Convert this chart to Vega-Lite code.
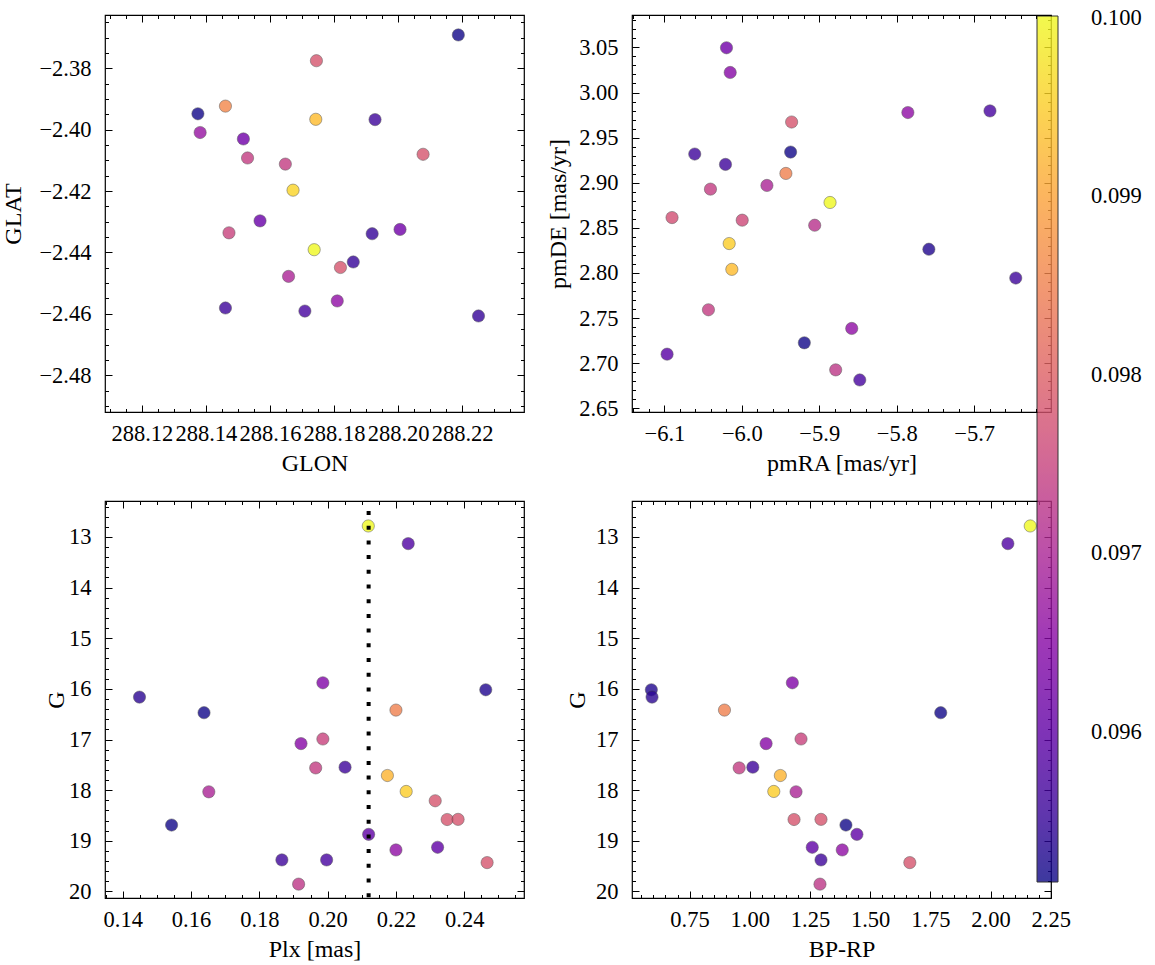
{
  "$schema": "https://vega.github.io/schema/vega-lite/v6.json",
  "background": "white",
  "padding": {"left": 1, "top": 8, "right": 5, "bottom": 5},
  "datasets": {
    "p1": [
      {"GLON": 288.2188, "GLAT": -2.3691, "c": 0.0952},
      {"GLON": 288.1745, "GLAT": -2.3775, "c": 0.0978},
      {"GLON": 288.1461, "GLAT": -2.3923, "c": 0.0986},
      {"GLON": 288.1375, "GLAT": -2.3948, "c": 0.0952},
      {"GLON": 288.1743, "GLAT": -2.3966, "c": 0.0993},
      {"GLON": 288.1928, "GLAT": -2.3967, "c": 0.0956},
      {"GLON": 288.1382, "GLAT": -2.4009, "c": 0.0967},
      {"GLON": 288.1517, "GLAT": -2.403, "c": 0.0962},
      {"GLON": 288.2078, "GLAT": -2.408, "c": 0.0978},
      {"GLON": 288.153, "GLAT": -2.4092, "c": 0.0974},
      {"GLON": 288.1648, "GLAT": -2.4112, "c": 0.0974},
      {"GLON": 288.1672, "GLAT": -2.4197, "c": 0.0996},
      {"GLON": 288.1569, "GLAT": -2.4297, "c": 0.0961},
      {"GLON": 288.1472, "GLAT": -2.4336, "c": 0.0975},
      {"GLON": 288.1919, "GLAT": -2.4339, "c": 0.0955},
      {"GLON": 288.2006, "GLAT": -2.4325, "c": 0.0962},
      {"GLON": 288.1738, "GLAT": -2.4391, "c": 0.1},
      {"GLON": 288.186, "GLAT": -2.4431, "c": 0.0955},
      {"GLON": 288.182, "GLAT": -2.4449, "c": 0.0978},
      {"GLON": 288.1658, "GLAT": -2.4478, "c": 0.097},
      {"GLON": 288.181, "GLAT": -2.4558, "c": 0.0966},
      {"GLON": 288.1461, "GLAT": -2.4581, "c": 0.0956},
      {"GLON": 288.1709, "GLAT": -2.4591, "c": 0.0957},
      {"GLON": 288.2251, "GLAT": -2.4607, "c": 0.0955}
    ],
    "p2": [
      {"pmRA": -6.0198, "pmDE": 3.0496, "c": 0.0962},
      {"pmRA": -6.015, "pmDE": 3.0222, "c": 0.0965},
      {"pmRA": -5.7856, "pmDE": 2.9778, "c": 0.0966},
      {"pmRA": -5.6796, "pmDE": 2.9796, "c": 0.0957},
      {"pmRA": -5.9357, "pmDE": 2.9673, "c": 0.0978},
      {"pmRA": -6.0608, "pmDE": 2.9318, "c": 0.0956},
      {"pmRA": -5.937, "pmDE": 2.934, "c": 0.0952},
      {"pmRA": -6.0211, "pmDE": 2.9203, "c": 0.0956},
      {"pmRA": -5.9431, "pmDE": 2.9103, "c": 0.0985},
      {"pmRA": -6.0405, "pmDE": 2.8929, "c": 0.0974},
      {"pmRA": -5.9676, "pmDE": 2.897, "c": 0.097},
      {"pmRA": -5.8861, "pmDE": 2.8781, "c": 0.1},
      {"pmRA": -6.0901, "pmDE": 2.8614, "c": 0.0977},
      {"pmRA": -5.9995, "pmDE": 2.8585, "c": 0.0976},
      {"pmRA": -5.9059, "pmDE": 2.8529, "c": 0.0972},
      {"pmRA": -6.0163, "pmDE": 2.8326, "c": 0.0995},
      {"pmRA": -5.7585, "pmDE": 2.8263, "c": 0.0953},
      {"pmRA": -6.0129, "pmDE": 2.804, "c": 0.0993},
      {"pmRA": -5.6463, "pmDE": 2.7944, "c": 0.0956},
      {"pmRA": -6.0431, "pmDE": 2.7592, "c": 0.0974},
      {"pmRA": -5.8581, "pmDE": 2.7385, "c": 0.0966},
      {"pmRA": -5.9193, "pmDE": 2.7226, "c": 0.0952},
      {"pmRA": -6.0965, "pmDE": 2.71, "c": 0.0959},
      {"pmRA": -5.8788, "pmDE": 2.6926, "c": 0.0973},
      {"pmRA": -5.8477, "pmDE": 2.6814, "c": 0.0957}
    ],
    "p34": [
      {"Plx": 0.2119, "BPRP": 2.1648, "G": 12.783, "c": 0.1},
      {"Plx": 0.2236, "BPRP": 2.072, "G": 13.132, "c": 0.0958},
      {"Plx": 0.1986, "BPRP": 1.1769, "G": 15.88, "c": 0.0964},
      {"Plx": 0.2463, "BPRP": 0.5913, "G": 16.018, "c": 0.0953},
      {"Plx": 0.1449, "BPRP": 0.5942, "G": 16.163, "c": 0.0954},
      {"Plx": 0.22, "BPRP": 0.895, "G": 16.419, "c": 0.0985},
      {"Plx": 0.1638, "BPRP": 1.7931, "G": 16.471, "c": 0.0952},
      {"Plx": 0.1986, "BPRP": 1.2129, "G": 16.99, "c": 0.0975},
      {"Plx": 0.1922, "BPRP": 1.0679, "G": 17.081, "c": 0.0965},
      {"Plx": 0.1965, "BPRP": 0.956, "G": 17.561, "c": 0.0974},
      {"Plx": 0.2051, "BPRP": 1.0127, "G": 17.547, "c": 0.0956},
      {"Plx": 0.2175, "BPRP": 1.1271, "G": 17.711, "c": 0.0992},
      {"Plx": 0.223, "BPRP": 1.0998, "G": 18.026, "c": 0.0995},
      {"Plx": 0.1652, "BPRP": 1.1922, "G": 18.033, "c": 0.097},
      {"Plx": 0.2315, "BPRP": null, "G": 18.21, "c": 0.0978},
      {"Plx": 0.235, "BPRP": 1.1839, "G": 18.58, "c": 0.0978},
      {"Plx": 0.2382, "BPRP": 1.2958, "G": 18.577, "c": 0.0978},
      {"Plx": 0.1543, "BPRP": 1.3994, "G": 18.689, "c": 0.0952},
      {"Plx": 0.212, "BPRP": 1.445, "G": 18.873, "c": 0.096},
      {"Plx": 0.2322, "BPRP": 1.2596, "G": 19.128, "c": 0.096},
      {"Plx": 0.22, "BPRP": 1.3841, "G": 19.181, "c": 0.0966},
      {"Plx": 0.1866, "BPRP": 1.2958, "G": 19.378, "c": 0.0956},
      {"Plx": 0.1997, "BPRP": null, "G": 19.378, "c": 0.0957},
      {"Plx": 0.2467, "BPRP": 1.6647, "G": 19.431, "c": 0.0978},
      {"Plx": 0.1915, "BPRP": 1.2916, "G": 19.856, "c": 0.0973}
    ],
    "vline": [{"Plx": 0.212}]
  },
  "columns": 2,
  "spacing": {"row": 89, "column": 108},
  "bounds": "flush",
  "concat": [
    {
      "width": 419, "height": 397,
      "data": {"name": "p1"},
      "resolve": {"axis": {"x": "independent", "y": "independent"}},
      "layer": [
        {
          "mark": {"type": "circle", "size": 150, "opacity": 0.8, "stroke": "#333", "strokeWidth": 0.5},
          "encoding": {
            "x": {"field": "GLON", "type": "quantitative", "scale": {"domain": [288.1085, 288.2393], "nice": false, "zero": false},
              "axis": {"orient": "bottom", "title": "GLON", "format": ".2f",
                "values": [288.11, 288.115, 288.12, 288.125, 288.13, 288.135, 288.14, 288.145, 288.15, 288.155, 288.16, 288.165, 288.17, 288.175, 288.18, 288.185, 288.19, 288.195, 288.2, 288.205, 288.21, 288.215, 288.22, 288.225, 288.23, 288.235],
                "labelExpr": "abs(datum.value*50-round(datum.value*50))<0.01 ? datum.label : ''",
                "tickSize": {"expr": "abs(datum.value*50-round(datum.value*50))<0.01 ? -7 : -3.5"}}},
            "y": {"field": "GLAT", "type": "quantitative", "scale": {"domain": [-2.492, -2.3626], "nice": false, "zero": false},
              "axis": {"orient": "left", "title": "GLAT", "format": ".2f", "titlePadding": 13,
                "values": [-2.49, -2.485, -2.48, -2.475, -2.47, -2.465, -2.46, -2.455, -2.45, -2.445, -2.44, -2.435, -2.43, -2.425, -2.42, -2.415, -2.41, -2.405, -2.4, -2.395, -2.39, -2.385, -2.38, -2.375, -2.37, -2.365],
                "labelExpr": "abs(datum.value*50-round(datum.value*50))<0.01 ? datum.label : ''",
                "tickSize": {"expr": "abs(datum.value*50-round(datum.value*50))<0.01 ? -7 : -3.5"}}},
            "color": {"field": "c", "type": "quantitative",
              "scale": {"scheme": "plasma", "domain": [0.09516, 0.10001]},
              "legend": {"orient": "none", "legendX": 932, "legendY": 1, "direction": "vertical", "title": null,
                "gradientLength": 866, "gradientThickness": 21, "gradientStrokeColor": "black", "gradientStrokeWidth": 1, "gradientOpacity": 0.8,
                "values": [0.096, 0.097, 0.098, 0.099, 0.1], "format": ".3f",
                "labelFont": "Liberation Serif", "labelFontSize": 22.5, "labelColor": "black", "labelOffset": 33, "labelBaseline": "middle", "labelOverlap": false}}
          }
        },
        {
          "mark": {"type": "point", "opacity": 0},
          "encoding": {
            "x": {"field": "GLON", "type": "quantitative", "scale": {"domain": [288.1085, 288.2393], "nice": false, "zero": false},
              "axis": {"orient": "top", "title": null, "labels": false,
                "values": [288.11, 288.115, 288.12, 288.125, 288.13, 288.135, 288.14, 288.145, 288.15, 288.155, 288.16, 288.165, 288.17, 288.175, 288.18, 288.185, 288.19, 288.195, 288.2, 288.205, 288.21, 288.215, 288.22, 288.225, 288.23, 288.235],
                "tickSize": {"expr": "abs(datum.value*50-round(datum.value*50))<0.01 ? -7 : -3.5"}}},
            "y": {"field": "GLAT", "type": "quantitative", "scale": {"domain": [-2.492, -2.3626], "nice": false, "zero": false},
              "axis": {"orient": "right", "title": null, "labels": false,
                "values": [-2.49, -2.485, -2.48, -2.475, -2.47, -2.465, -2.46, -2.455, -2.45, -2.445, -2.44, -2.435, -2.43, -2.425, -2.42, -2.415, -2.41, -2.405, -2.4, -2.395, -2.39, -2.385, -2.38, -2.375, -2.37, -2.365],
                "tickSize": {"expr": "abs(datum.value*50-round(datum.value*50))<0.01 ? -7 : -3.5"}}}
          }
        }
      ]
    },
    {
      "width": 419, "height": 397,
      "data": {"name": "p2"},
      "resolve": {"axis": {"x": "independent", "y": "independent"}},
      "layer": [
        {
          "mark": {"type": "circle", "size": 150, "opacity": 0.8, "stroke": "#333", "strokeWidth": 0.5},
          "encoding": {
            "x": {"field": "pmRA", "type": "quantitative", "scale": {"domain": [-6.1418, -5.6008], "nice": false, "zero": false},
              "axis": {"orient": "bottom", "title": "pmRA [mas/yr]", "format": ".1f",
                "values": [-6.14, -6.12, -6.1, -6.08, -6.06, -6.04, -6.02, -6.0, -5.98, -5.96, -5.94, -5.92, -5.9, -5.88, -5.86, -5.84, -5.82, -5.8, -5.78, -5.76, -5.74, -5.72, -5.7, -5.68, -5.66, -5.64, -5.62],
                "labelExpr": "abs(datum.value*10-round(datum.value*10))<0.01 ? datum.label : ''",
                "tickSize": {"expr": "abs(datum.value*10-round(datum.value*10))<0.01 ? -7 : -3.5"}}},
            "y": {"field": "pmDE", "type": "quantitative", "scale": {"domain": [2.6459, 3.0859], "nice": false, "zero": false},
              "axis": {"orient": "left", "title": "pmDE [mas/yr]", "format": ".2f", "titlePadding": 8,
                "values": [2.65, 2.66, 2.67, 2.68, 2.69, 2.7, 2.71, 2.72, 2.73, 2.74, 2.75, 2.76, 2.77, 2.78, 2.79, 2.8, 2.81, 2.82, 2.83, 2.84, 2.85, 2.86, 2.87, 2.88, 2.89, 2.9, 2.91, 2.92, 2.93, 2.94, 2.95, 2.96, 2.97, 2.98, 2.99, 3.0, 3.01, 3.02, 3.03, 3.04, 3.05, 3.06, 3.07, 3.08],
                "labelExpr": "abs(datum.value*20-round(datum.value*20))<0.01 ? datum.label : ''",
                "tickSize": {"expr": "abs(datum.value*20-round(datum.value*20))<0.01 ? -7 : -3.5"}}},
            "color": {"field": "c", "type": "quantitative",
              "scale": {"scheme": "plasma", "domain": [0.09516, 0.10001]},
              "legend": {"orient": "none", "legendX": 932, "legendY": 1, "direction": "vertical", "title": null,
                "gradientLength": 866, "gradientThickness": 21, "gradientStrokeColor": "black", "gradientStrokeWidth": 1, "gradientOpacity": 0.8,
                "values": [0.096, 0.097, 0.098, 0.099, 0.1], "format": ".3f",
                "labelFont": "Liberation Serif", "labelFontSize": 22.5, "labelColor": "black", "labelOffset": 33, "labelBaseline": "middle", "labelOverlap": false}}
          }
        },
        {
          "mark": {"type": "point", "opacity": 0},
          "encoding": {
            "x": {"field": "pmRA", "type": "quantitative", "scale": {"domain": [-6.1418, -5.6008], "nice": false, "zero": false},
              "axis": {"orient": "top", "title": null, "labels": false,
                "values": [-6.14, -6.12, -6.1, -6.08, -6.06, -6.04, -6.02, -6.0, -5.98, -5.96, -5.94, -5.92, -5.9, -5.88, -5.86, -5.84, -5.82, -5.8, -5.78, -5.76, -5.74, -5.72, -5.7, -5.68, -5.66, -5.64, -5.62],
                "tickSize": {"expr": "abs(datum.value*10-round(datum.value*10))<0.01 ? -7 : -3.5"}}},
            "y": {"field": "pmDE", "type": "quantitative", "scale": {"domain": [2.6459, 3.0859], "nice": false, "zero": false},
              "axis": {"orient": "right", "title": null, "labels": false,
                "values": [2.65, 2.66, 2.67, 2.68, 2.69, 2.7, 2.71, 2.72, 2.73, 2.74, 2.75, 2.76, 2.77, 2.78, 2.79, 2.8, 2.81, 2.82, 2.83, 2.84, 2.85, 2.86, 2.87, 2.88, 2.89, 2.9, 2.91, 2.92, 2.93, 2.94, 2.95, 2.96, 2.97, 2.98, 2.99, 3.0, 3.01, 3.02, 3.03, 3.04, 3.05, 3.06, 3.07, 3.08],
                "tickSize": {"expr": "abs(datum.value*20-round(datum.value*20))<0.01 ? -7 : -3.5"}}}
          }
        }
      ]
    },
    {
      "width": 419, "height": 397,
      "data": {"name": "p34"},
      "resolve": {"axis": {"x": "independent", "y": "independent"}},
      "layer": [
        {
          "mark": {"type": "circle", "size": 150, "opacity": 0.8, "stroke": "#333", "strokeWidth": 0.5},
          "encoding": {
            "x": {"field": "Plx", "type": "quantitative", "scale": {"domain": [0.1348, 0.2575], "nice": false, "zero": false},
              "axis": {"orient": "bottom", "title": "Plx [mas]", "format": ".2f",
                "values": [0.135, 0.14, 0.145, 0.15, 0.155, 0.16, 0.165, 0.17, 0.175, 0.18, 0.185, 0.19, 0.195, 0.2, 0.205, 0.21, 0.215, 0.22, 0.225, 0.23, 0.235, 0.24, 0.245, 0.25, 0.255],
                "labelExpr": "abs(datum.value*50-round(datum.value*50))<0.01 ? datum.label : ''",
                "tickSize": {"expr": "abs(datum.value*50-round(datum.value*50))<0.01 ? -7 : -3.5"}}},
            "y": {"field": "G", "type": "quantitative", "scale": {"domain": [12.29, 20.13], "reverse": true, "nice": false, "zero": false},
              "axis": {"orient": "left", "title": "G", "format": ".0f", "titlePadding": 0,
                "values": [12.4, 12.6, 12.8, 13, 13.2, 13.4, 13.6, 13.8, 14, 14.2, 14.4, 14.6, 14.8, 15, 15.2, 15.4, 15.6, 15.8, 16, 16.2, 16.4, 16.6, 16.8, 17, 17.2, 17.4, 17.6, 17.8, 18, 18.2, 18.4, 18.6, 18.8, 19, 19.2, 19.4, 19.6, 19.8, 20],
                "labelExpr": "abs(datum.value-round(datum.value))<0.01 ? datum.label : ''",
                "tickSize": {"expr": "abs(datum.value-round(datum.value))<0.01 ? -7 : -3.5"}}},
            "color": {"field": "c", "type": "quantitative",
              "scale": {"scheme": "plasma", "domain": [0.09516, 0.10001]},
              "legend": {"orient": "none", "legendX": 932, "legendY": 1, "direction": "vertical", "title": null,
                "gradientLength": 866, "gradientThickness": 21, "gradientStrokeColor": "black", "gradientStrokeWidth": 1, "gradientOpacity": 0.8,
                "values": [0.096, 0.097, 0.098, 0.099, 0.1], "format": ".3f",
                "labelFont": "Liberation Serif", "labelFontSize": 22.5, "labelColor": "black", "labelOffset": 33, "labelBaseline": "middle", "labelOverlap": false}}
          }
        },
        {
          "data": {"name": "vline"},
          "mark": {"type": "rule", "color": "black", "strokeWidth": 4, "strokeDash": [4, 10.7], "strokeDashOffset": 4.7},
          "encoding": {
            "x": {"field": "Plx", "type": "quantitative", "axis": null}
          }
        },
        {
          "mark": {"type": "point", "opacity": 0},
          "encoding": {
            "x": {"field": "Plx", "type": "quantitative", "scale": {"domain": [0.1348, 0.2575], "nice": false, "zero": false},
              "axis": {"orient": "top", "title": null, "labels": false,
                "values": [0.135, 0.14, 0.145, 0.15, 0.155, 0.16, 0.165, 0.17, 0.175, 0.18, 0.185, 0.19, 0.195, 0.2, 0.205, 0.21, 0.215, 0.22, 0.225, 0.23, 0.235, 0.24, 0.245, 0.25, 0.255],
                "tickSize": {"expr": "abs(datum.value*50-round(datum.value*50))<0.01 ? -7 : -3.5"}}},
            "y": {"field": "G", "type": "quantitative", "scale": {"domain": [12.29, 20.13], "reverse": true, "nice": false, "zero": false},
              "axis": {"orient": "right", "title": null, "labels": false,
                "values": [12.4, 12.6, 12.8, 13, 13.2, 13.4, 13.6, 13.8, 14, 14.2, 14.4, 14.6, 14.8, 15, 15.2, 15.4, 15.6, 15.8, 16, 16.2, 16.4, 16.6, 16.8, 17, 17.2, 17.4, 17.6, 17.8, 18, 18.2, 18.4, 18.6, 18.8, 19, 19.2, 19.4, 19.6, 19.8, 20],
                "tickSize": {"expr": "abs(datum.value-round(datum.value))<0.01 ? -7 : -3.5"}}}
          }
        }
      ]
    },
    {
      "width": 419, "height": 397,
      "data": {"name": "p34"},
      "resolve": {"axis": {"x": "independent", "y": "independent"}},
      "layer": [
        {
          "mark": {"type": "circle", "size": 150, "opacity": 0.8, "stroke": "#333", "strokeWidth": 0.5},
          "encoding": {
            "x": {"field": "BPRP", "type": "quantitative", "scale": {"domain": [0.511, 2.251], "nice": false, "zero": false},
              "axis": {"orient": "bottom", "title": "BP-RP", "format": ".2f",
                "values": [0.55, 0.6, 0.65, 0.7, 0.75, 0.8, 0.85, 0.9, 0.95, 1, 1.05, 1.1, 1.15, 1.2, 1.25, 1.3, 1.35, 1.4, 1.45, 1.5, 1.55, 1.6, 1.65, 1.7, 1.75, 1.8, 1.85, 1.9, 1.95, 2, 2.05, 2.1, 2.15, 2.2, 2.25],
                "labelExpr": "abs(datum.value*4-round(datum.value*4))<0.01 ? datum.label : ''",
                "tickSize": {"expr": "abs(datum.value*4-round(datum.value*4))<0.01 ? -7 : -3.5"}}},
            "y": {"field": "G", "type": "quantitative", "scale": {"domain": [12.29, 20.13], "reverse": true, "nice": false, "zero": false},
              "axis": {"orient": "left", "title": "G", "format": ".0f", "titlePadding": 6,
                "values": [12.4, 12.6, 12.8, 13, 13.2, 13.4, 13.6, 13.8, 14, 14.2, 14.4, 14.6, 14.8, 15, 15.2, 15.4, 15.6, 15.8, 16, 16.2, 16.4, 16.6, 16.8, 17, 17.2, 17.4, 17.6, 17.8, 18, 18.2, 18.4, 18.6, 18.8, 19, 19.2, 19.4, 19.6, 19.8, 20],
                "labelExpr": "abs(datum.value-round(datum.value))<0.01 ? datum.label : ''",
                "tickSize": {"expr": "abs(datum.value-round(datum.value))<0.01 ? -7 : -3.5"}}},
            "color": {"field": "c", "type": "quantitative",
              "scale": {"scheme": "plasma", "domain": [0.09516, 0.10001]},
              "legend": {"orient": "none", "legendX": 932, "legendY": 1, "direction": "vertical", "title": null,
                "gradientLength": 866, "gradientThickness": 21, "gradientStrokeColor": "black", "gradientStrokeWidth": 1, "gradientOpacity": 0.8,
                "values": [0.096, 0.097, 0.098, 0.099, 0.1], "format": ".3f",
                "labelFont": "Liberation Serif", "labelFontSize": 22.5, "labelColor": "black", "labelOffset": 33, "labelBaseline": "middle", "labelOverlap": false}}
          }
        },
        {
          "mark": {"type": "point", "opacity": 0},
          "encoding": {
            "x": {"field": "BPRP", "type": "quantitative", "scale": {"domain": [0.511, 2.251], "nice": false, "zero": false},
              "axis": {"orient": "top", "title": null, "labels": false,
                "values": [0.55, 0.6, 0.65, 0.7, 0.75, 0.8, 0.85, 0.9, 0.95, 1, 1.05, 1.1, 1.15, 1.2, 1.25, 1.3, 1.35, 1.4, 1.45, 1.5, 1.55, 1.6, 1.65, 1.7, 1.75, 1.8, 1.85, 1.9, 1.95, 2, 2.05, 2.1, 2.15, 2.2, 2.25],
                "tickSize": {"expr": "abs(datum.value*4-round(datum.value*4))<0.01 ? -7 : -3.5"}}},
            "y": {"field": "G", "type": "quantitative", "scale": {"domain": [12.29, 20.13], "reverse": true, "nice": false, "zero": false},
              "axis": {"orient": "right", "title": null, "labels": false,
                "values": [12.4, 12.6, 12.8, 13, 13.2, 13.4, 13.6, 13.8, 14, 14.2, 14.4, 14.6, 14.8, 15, 15.2, 15.4, 15.6, 15.8, 16, 16.2, 16.4, 16.6, 16.8, 17, 17.2, 17.4, 17.6, 17.8, 18, 18.2, 18.4, 18.6, 18.8, 19, 19.2, 19.4, 19.6, 19.8, 20],
                "tickSize": {"expr": "abs(datum.value-round(datum.value))<0.01 ? -7 : -3.5"}}}
          }
        }
      ]
    }
  ],
  "config": {
    "font": "Liberation Serif",
    "view": {"stroke": "black", "strokeWidth": 1.2},
    "axis": {
      "domain": false, "grid": false,
      "labelFont": "Liberation Serif", "labelFontSize": 22.5, "labelColor": "black",
      "titleFont": "Liberation Serif", "titleFontSize": 24, "titleFontWeight": "normal", "titleColor": "black",
      "tickColor": "black", "tickWidth": 1,
      "labelOverlap": false, "labelFlush": false, "labelBound": false
    },
    "axisX": {"labelPadding": 17, "titlePadding": 3},
    "axisY": {"labelPadding": 21}
  }
}
